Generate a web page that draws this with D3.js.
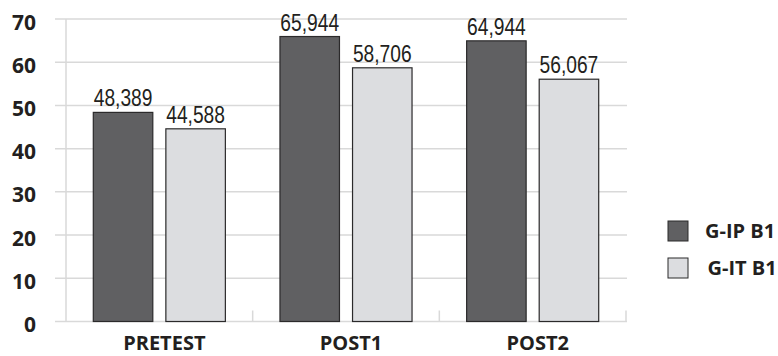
<!DOCTYPE html>
<html>
<head>
<meta charset="utf-8">
<script src="https://cdn.jsdelivr.net/npm/d3@7"></script>
<style>
  html, body { margin: 0; padding: 0; background: #fff; }
  svg { display: block; }
</style>
</head>
<body>
<div id="chart"></div>
<script>
// Group means per test phase
const categories = ["PRETEST", "POST1", "POST2"];
const seriesNames = ["G-IP B1", "G-IT B1"];
const gipValues = [48.389, 65.944, 64.944];
const gitValues = [44.588, 58.706, 56.067];
const valueLabels = [["48,389", "65,944", "64,944"], ["44,588", "58,706", "56,067"]];
const yTicks = [0, 10, 20, 30, 40, 50, 60, 70];

const seriesValues = [gipValues, gitValues];
const fills = ["#606062", "#dcdde0"];
const W = 778, H = 356;

const svg = d3.select("#chart").append("svg")
  .attr("width", W).attr("height", H);

const plot = { left: 66, right: 626, top: 19, bottom: 321.5 };

const x = d3.scaleBand().domain(categories).range([plot.left, plot.right]);
const groupPad = 27.3;
const xInner = d3.scaleBand().domain(seriesNames)
  .range([groupPad, x.bandwidth() - groupPad]).paddingInner(0.18);
const y = d3.scaleLinear().domain([0, 70]).range([plot.bottom, plot.top]);

const textColor = "#231f20";
const gridColor = "#d9d9d9";

// Horizontal gridlines (extend slightly left of the axis line)
svg.append("g").selectAll("line").data(yTicks).join("line")
  .attr("x1", plot.left - 11).attr("x2", plot.right + 1)
  .attr("y1", d => y(d)).attr("y2", d => y(d))
  .attr("stroke", gridColor).attr("stroke-width", 1.5);

// Vertical axis line
svg.append("line")
  .attr("x1", plot.left).attr("x2", plot.left)
  .attr("y1", y(70)).attr("y2", y(0))
  .attr("stroke", gridColor).attr("stroke-width", 1.5);

// Category separator ticks along the baseline
const sepTicks = categories.map(c => x(c) + x.bandwidth());
svg.append("g").selectAll("line").data(sepTicks).join("line")
  .attr("x1", d => d).attr("x2", d => d)
  .attr("y1", y(0) - 11).attr("y2", y(0))
  .attr("stroke", gridColor).attr("stroke-width", 1.5);

// Y tick labels
svg.append("g").selectAll("text").data(yTicks).join("text")
  .attr("x", 36).attr("y", d => y(d) + 3)
  .attr("dy", "0.36em")
  .attr("text-anchor", "end")
  .attr("font-family", "'Open Sans', sans-serif")
  .attr("font-weight", 700).attr("font-size", 21)
  .attr("fill", textColor)
  .text(d => d);

// Bars and value labels
const groups = svg.append("g").selectAll("g").data(categories).join("g")
  .attr("transform", c => `translate(${x(c)},0)`);

seriesNames.forEach((s, si) => {
  groups.append("rect")
    .attr("x", xInner(s))
    .attr("y", (c, ci) => y(seriesValues[si][ci]))
    .attr("width", xInner.bandwidth())
    .attr("height", (c, ci) => y(0) - y(seriesValues[si][ci]))
    .attr("fill", fills[si])
    .attr("stroke", "#2b2a2b").attr("stroke-width", 1.2);

  // narrow numerals: horizontally compressed sans
  groups.append("g")
    .attr("transform", (c, ci) =>
      `translate(${xInner(s) + xInner.bandwidth() / 2},${y(seriesValues[si][ci]) - 6}) scale(0.8,1)`)
    .append("text")
    .attr("text-anchor", "middle")
    .attr("font-family", "'Liberation Sans', Arial, sans-serif")
    .attr("font-size", 24)
    .attr("fill", textColor)
    .text((c, ci) => valueLabels[si][ci]);
});

// Category labels
svg.append("g").selectAll("text").data(categories).join("text")
  .attr("x", c => x(c) + x.bandwidth() / 2 + 5)
  .attr("y", 350)
  .attr("text-anchor", "middle")
  .attr("font-family", "'Open Sans', sans-serif")
  .attr("font-weight", 700).attr("font-size", 20)
  .attr("fill", textColor)
  .text(c => c);

// Legend
const legend = svg.append("g").attr("transform", "translate(668,221)");
const li = legend.selectAll("g").data(seriesNames).join("g")
  .attr("transform", (d, i) => `translate(0,${i * 37})`);
li.append("rect")
  .attr("width", 20).attr("height", 20)
  .attr("fill", (d, i) => fills[i])
  .attr("stroke", "#2b2a2b").attr("stroke-width", 1);
li.append("text")
  .attr("x", (d, i) => i === 0 ? 37 : 39.5).attr("y", 10)
  .attr("dy", "0.36em")
  .attr("font-family", "'Open Sans', sans-serif")
  .attr("font-weight", 700).attr("font-size", 20)
  .attr("fill", textColor)
  .text(d => d);
</script>
</body>
</html>
